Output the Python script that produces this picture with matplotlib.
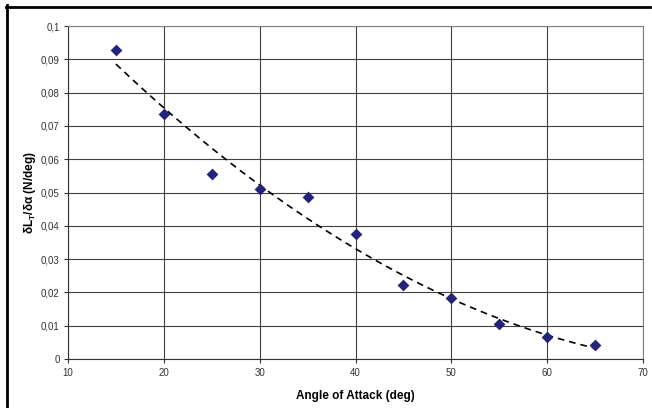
import numpy as np
import matplotlib
matplotlib.use("Agg")
import matplotlib.pyplot as plt
from matplotlib.ticker import FuncFormatter

plt.rcParams["font.family"] = ["Liberation Sans", "DejaVu Sans"]

# measured points
angle = [15, 20, 25, 30, 35, 40, 45, 50, 55, 60, 65]
dl_da = [0.0927, 0.0735, 0.0556, 0.0512, 0.0486, 0.0374, 0.0221, 0.0182, 0.0106, 0.0065, 0.0041]

x_ticks = [10, 20, 30, 40, 50, 60, 70]
y_ticks = [0, 0.01, 0.02, 0.03, 0.04, 0.05, 0.06, 0.07, 0.08, 0.09, 0.1]

# 2nd order trend line, like the spreadsheet one
coef = np.polyfit(angle, dl_da, 2)
xt = np.linspace(angle[0], angle[-1], 200)
yt = np.polyval(coef, xt)

fig = plt.figure(figsize=(6.52, 4.08), dpi=100)
ax = fig.add_axes([68 / 652, 1 - 359 / 408, 575 / 652, 333 / 408])

ax.plot(xt, yt, color="black", linestyle=(0, (4, 3)), linewidth=1.2, zorder=3)
ax.scatter(angle, dl_da, marker="D", s=36, color="#23237a", zorder=4, linewidths=0)

ax.set_xlim(10, 70)
ax.set_ylim(0, 0.1)
ax.set_xticks(x_ticks)
ax.set_yticks(y_ticks)
ax.yaxis.set_major_formatter(FuncFormatter(lambda v, p: "0" if v == 0 else f"{v:.2f}".rstrip("0").replace(".", ",")))
ax.grid(True, color="#404040", linewidth=0.8)
ax.set_axisbelow(True)
ax.tick_params(labelsize=7, labelcolor="#333333", length=3, width=0.8, color="#333333")
ax.tick_params(axis="y", pad=3)

for side in ["top", "right"]:
    ax.spines[side].set_color("#808080")
    ax.spines[side].set_linewidth(0.8)
for side in ["left", "bottom"]:
    ax.spines[side].set_color("#333333")
    ax.spines[side].set_linewidth(0.8)

ax.set_xlabel("Angle of Attack (deg)", fontsize=8.5, fontweight="bold")
ax.set_ylabel(r"δL$_\mathregular{T}$/δα (N/deg)", fontsize=8.5, fontweight="bold")
ax.xaxis.set_label_coords(0.5, -31 / 333)
ax.yaxis.set_label_coords(-30 / 575, 0.5)

# outer frame (left and top only are visible)
fig.add_artist(plt.Line2D([6.5 / 652, 6.5 / 652], [0, 1 - 5 / 408], transform=fig.transFigure, color="black", linewidth=2))
fig.add_artist(plt.Line2D([5.5 / 652, 650 / 652], [1 - 6.5 / 408, 1 - 6.5 / 408], transform=fig.transFigure, color="black", linewidth=2))

plt.savefig("out.png", dpi=100)
plt.close()
